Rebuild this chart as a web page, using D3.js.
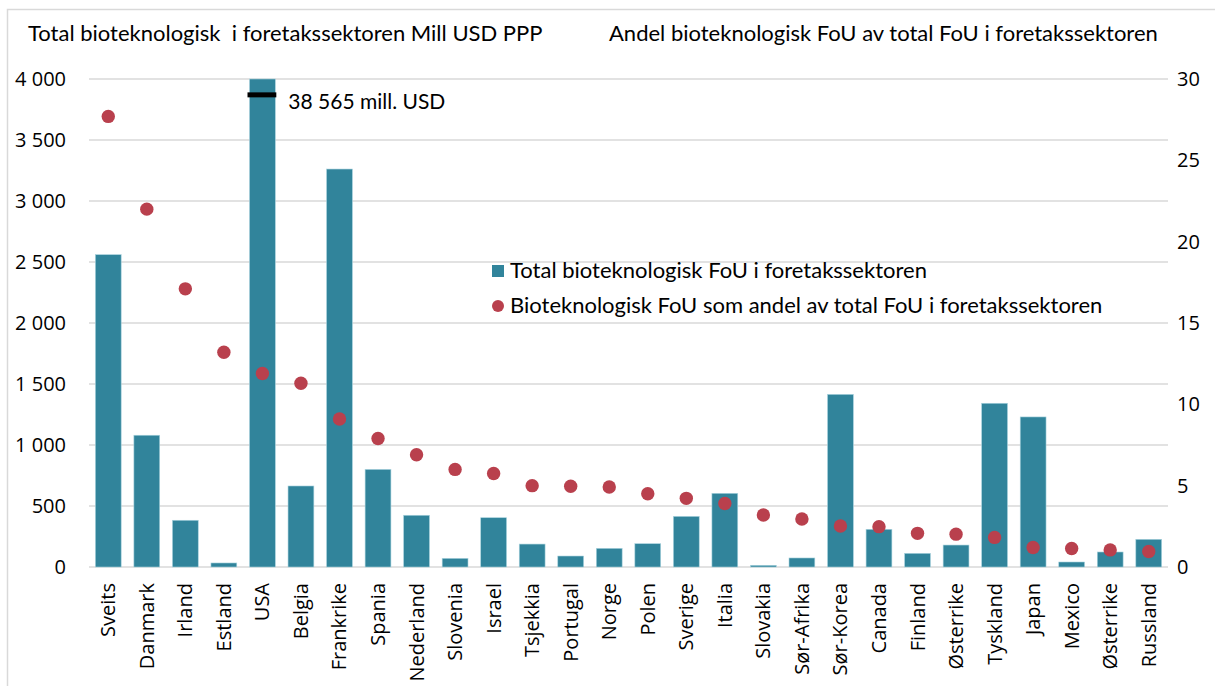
<!DOCTYPE html>
<html>
<head>
<meta charset="utf-8">
<script src="https://cdn.jsdelivr.net/npm/d3@7"></script>
<style>
  body { margin: 0; background: #fff; }
  svg { display: block; }
  .tick text { fill: #000; }
</style>
</head>
<body>
<svg id="chart" width="1215" height="686"></svg>
<script>
var countries = ["Sveits","Danmark","Irland","Estland","USA","Belgia","Frankrike","Spania","Nederland","Slovenia","Israel","Tsjekkia","Portugal","Norge","Polen","Sverige","Italia","Slovakia","Sør-Afrika","Sør-Korea","Canada","Finland","Østerrike","Tyskland","Japan","Mexico","Østerrike ","Russland"];
// Mill USD PPP (USA is cut at the axis top, real value 38 565)
var totalRD = [2560,1080,383,33,38565,664,3262,800,424,71,404,188,90,153,191,415,604,14,74,1415,309,112,180,1342,1230,41,123,227];
// percent of total business R&D
var shareRD = [27.7,22.0,17.1,13.2,11.9,11.3,9.1,7.9,6.9,6.0,5.75,5.0,4.96,4.92,4.5,4.22,3.9,3.2,2.95,2.52,2.48,2.07,2.02,1.82,1.2,1.14,1.05,0.95];
var leftTicks = [0,500,1000,1500,2000,2500,3000,3500,4000];
var rightTicks = [0,5,10,15,20,25,30];
var leftMax = 4000, rightMax = 30;
var usaNote = "38 565 mill. USD", usaMarkValue = 3870;

var barColor = "#31849B", dotColor = "#B9404D", gridColor = "#d9d9d9";
var textFont = "Lato, 'Open Sans', sans-serif";
var axisFont = "'Open Sans', 'Noto Sans', sans-serif";

var svg = d3.select("#chart");
var plotLeft = 89, plotRight = 1168, plotTop = 79, plotBottom = 567;

// outer frame
svg.append("rect")
  .attr("x", 7.5).attr("y", 9.5)
  .attr("width", 1220).attr("height", 690)
  .attr("fill", "none")
  .attr("stroke", gridColor)
  .attr("stroke-width", 1.5);

var xScale = d3.scaleBand()
  .domain(d3.range(countries.length))
  .range([plotLeft, plotRight])
  .paddingInner(0.33)
  .paddingOuter(0.165);

var yLeft = d3.scaleLinear()
  .domain([0, leftMax])
  .range([plotBottom, plotTop]);

var yRight = d3.scaleLinear()
  .domain([0, rightMax])
  .range([plotBottom, plotTop]);

// gridlines
svg.append("g")
  .selectAll("line")
  .data(leftTicks)
  .join("line")
  .attr("x1", plotLeft).attr("x2", plotRight)
  .attr("y1", function(d){ return yLeft(d); })
  .attr("y2", function(d){ return yLeft(d); })
  .attr("stroke", gridColor)
  .attr("stroke-width", 1.5);

// left axis
var leftAxis = svg.append("g")
  .attr("transform", "translate(" + (plotLeft - 23) + ",0)")
  .call(d3.axisLeft(yLeft).tickValues(leftTicks).tickSize(0)
    .tickFormat(function(d){ return d3.format(",")(d).replace(",", " "); }));
leftAxis.select(".domain").remove();
leftAxis.selectAll("text")
  .attr("x", 0)
  .style("font-family", axisFont)
  .style("font-size", "20px");

// right axis
var rightAxis = svg.append("g")
  .attr("transform", "translate(" + (plotRight + 9) + ",0)")
  .call(d3.axisRight(yRight).tickValues(rightTicks).tickSize(0));
rightAxis.select(".domain").remove();
rightAxis.selectAll("text")
  .attr("x", 0)
  .style("font-family", axisFont)
  .style("font-size", "20px");

// bars
svg.append("g")
  .selectAll("rect")
  .data(totalRD)
  .join("rect")
  .attr("x", function(d, i){ return xScale(i); })
  .attr("width", xScale.bandwidth())
  .attr("y", function(d){ return yLeft(Math.min(d, leftMax)); })
  .attr("height", function(d){ return plotBottom - yLeft(Math.min(d, leftMax)); })
  .attr("fill", barColor)
  .attr("stroke", "#a9d3de")
  .attr("stroke-width", 0.6);

// dots
svg.append("g")
  .selectAll("circle")
  .data(shareRD)
  .join("circle")
  .attr("cx", function(d, i){ return xScale(i) + xScale.bandwidth()/2; })
  .attr("cy", function(d){ return yRight(d); })
  .attr("r", 6.7)
  .attr("fill", dotColor);

// USA annotation
var usaIndex = countries.indexOf("USA");
svg.append("line")
  .attr("x1", xScale(usaIndex) - 2)
  .attr("x2", xScale(usaIndex) + xScale.bandwidth() + 1)
  .attr("y1", yLeft(usaMarkValue))
  .attr("y2", yLeft(usaMarkValue))
  .attr("stroke", "#000")
  .attr("stroke-width", 5);
svg.append("text")
  .attr("x", xScale(usaIndex) + xScale.bandwidth() + 13)
  .attr("y", yLeft(usaMarkValue) + 14)
  .style("font-family", textFont)
  .style("font-size", "21px")
  .text(usaNote);

// x labels
svg.append("g")
  .selectAll("text")
  .data(countries)
  .join("text")
  .attr("transform", function(d, i){
    return "translate(" + (xScale(i) + xScale.bandwidth()/2) + "," + (plotBottom + 16) + ") rotate(-90)";
  })
  .attr("text-anchor", "end")
  .attr("dy", "0.35em")
  .style("font-family", axisFont)
  .style("font-size", "20px")
  .text(function(d){ return d.trim(); });

// axis titles
svg.append("text")
  .attr("x", 28).attr("y", 41)
  .style("font-family", textFont)
  .style("font-size", "22px")
  .style("white-space", "pre")
  .text("Total bioteknologisk  i foretakssektoren Mill USD PPP");
svg.append("text")
  .attr("x", 609).attr("y", 41)
  .style("font-family", textFont)
  .style("font-size", "22px")
  .text("Andel bioteknologisk FoU av total FoU i foretakssektoren");

// legend
var legend = svg.append("g").attr("transform", "translate(492,271)");
legend.append("rect")
  .attr("x", 0).attr("y", -6)
  .attr("width", 12).attr("height", 12)
  .attr("fill", barColor);
legend.append("text")
  .attr("x", 18).attr("y", 7)
  .style("font-family", textFont)
  .style("font-size", "22px")
  .text("Total bioteknologisk FoU i foretakssektoren");
legend.append("circle")
  .attr("cx", 6).attr("cy", 35)
  .attr("r", 6)
  .attr("fill", dotColor);
legend.append("text")
  .attr("x", 18).attr("y", 42)
  .style("font-family", textFont)
  .style("font-size", "22px")
  .text("Bioteknologisk FoU som andel av total FoU i foretakssektoren");
</script>
</body>
</html>
